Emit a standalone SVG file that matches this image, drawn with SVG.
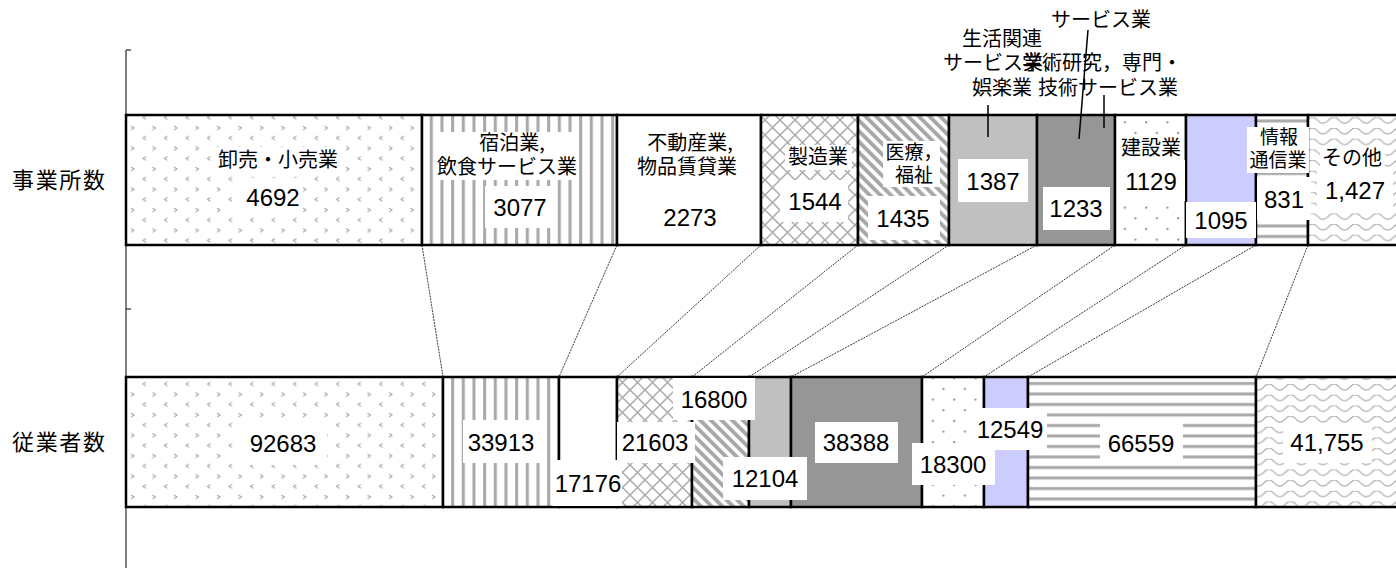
<svg xmlns="http://www.w3.org/2000/svg" width="1396" height="568" viewBox="0 0 1396 568">
<style>
.seg{stroke:#000;stroke-width:2.5}
.box{fill:#fff}
.jp{font-family:"Noto Sans CJK JP",sans-serif;font-size:20px;fill:#000;text-anchor:middle}
.sm{font-size:19px}
.num{font-family:"Liberation Sans","Noto Sans CJK JP",sans-serif;font-size:24px;fill:#000;text-anchor:middle}
.ax{font-family:"Noto Sans CJK JP",sans-serif;font-size:22px;fill:#000}
.conn{stroke:#222;stroke-width:0.9;stroke-dasharray:2 1;fill:none}
.lead{stroke:#000;stroke-width:1.5;fill:none}
</style>
<defs>
<pattern id="divot" patternUnits="userSpaceOnUse" width="21.5" height="20.5">
<rect width="21.5" height="20.5" fill="#fff"/>
<path d="M2,3 l3,2 l-3,2 M17,13 l-3,2 l3,2" stroke="#999" stroke-width="1" fill="none"/>
</pattern>
<pattern id="vstripe" patternUnits="userSpaceOnUse" width="10.67" height="10">
<rect width="10.67" height="10" fill="#fff"/>
<rect x="3" width="3" height="10" fill="#a8a8a8"/>
</pattern>
<pattern id="cross" patternUnits="userSpaceOnUse" width="15" height="15">
<rect width="15" height="15" fill="#fff"/>
<path d="M0,0 L15,15 M15,0 L0,15" stroke="#aaa" stroke-width="1.5"/>
</pattern>
<pattern id="wdiag" patternUnits="userSpaceOnUse" width="7.54" height="10" patternTransform="rotate(-45)">
<rect width="7.54" height="10" fill="#fff"/>
<rect width="3.9" height="10" fill="#a8a8a8"/>
</pattern>
<pattern id="dots" patternUnits="userSpaceOnUse" width="21.33" height="21.33">
<rect width="21.33" height="21.33" fill="#fff"/>
<circle cx="5" cy="5" r="1.1" fill="#888"/>
<circle cx="15.67" cy="15.67" r="1.1" fill="#888"/>
</pattern>
<pattern id="hstripe" patternUnits="userSpaceOnUse" width="10" height="10.5">
<rect width="10" height="10.5" fill="#fff"/>
<rect y="4" width="10" height="3" fill="#a8a8a8"/>
</pattern>
<pattern id="wave" patternUnits="userSpaceOnUse" width="21.6" height="10.67">
<rect width="21.6" height="10.67" fill="#fff"/>
<path d="M0,3 Q5.4,9 10.8,3 T21.6,3" stroke="#aaa" stroke-width="1.2" fill="none"/>
</pattern>
</defs>

<g id="axis">
<line x1="126" y1="50" x2="126" y2="568" stroke="#000" stroke-width="1"/>
<line x1="126" y1="50" x2="131" y2="50" stroke="#000" stroke-width="1"/>
<line x1="126" y1="309" x2="131" y2="309" stroke="#000" stroke-width="1"/>
<text class="ax" x="12" y="188" textLength="93">事業所数</text>
<text class="ax" x="12" y="450" textLength="93">従業者数</text>
</g>

<g id="connectors">
<line class="conn" x1="422" y1="245" x2="443" y2="377"/>
<line class="conn" x1="617" y1="245" x2="559" y2="377"/>
<line class="conn" x1="761" y1="245" x2="617" y2="377"/>
<line class="conn" x1="858" y1="245" x2="692" y2="377"/>
<line class="conn" x1="949" y1="245" x2="749" y2="377"/>
<line class="conn" x1="1037" y1="245" x2="791" y2="377"/>
<line class="conn" x1="1115" y1="245" x2="922" y2="377"/>
<line class="conn" x1="1186" y1="245" x2="984" y2="377"/>
<line class="conn" x1="1256" y1="245" x2="1028" y2="377"/>
<line class="conn" x1="1308" y1="245" x2="1256" y2="377"/>
</g>

<g id="upper-bar">
<rect class="seg" x="126" y="115" width="296" height="130" fill="url(#divot)"/>
<rect class="seg" x="422" y="115" width="195" height="130" fill="url(#vstripe)"/>
<rect class="seg" x="617" y="115" width="144" height="130" fill="#fff"/>
<rect class="seg" x="761" y="115" width="97" height="130" fill="url(#cross)"/>
<rect class="seg" x="858" y="115" width="91" height="130" fill="url(#wdiag)"/>
<rect class="seg" x="949" y="115" width="88" height="130" fill="#c0c0c0"/>
<rect class="seg" x="1037" y="115" width="78" height="130" fill="#969696"/>
<rect class="seg" x="1115" y="115" width="71" height="130" fill="url(#dots)"/>
<rect class="seg" x="1186" y="115" width="70" height="130" fill="#ccccff"/>
<rect class="seg" x="1256" y="115" width="52" height="130" fill="url(#hstripe)"/>
<rect class="seg" x="1308" y="115" width="94" height="130" fill="url(#wave)"/>
</g>

<g id="lower-bar">
<rect class="seg" x="126" y="377" width="317" height="130" fill="url(#divot)"/>
<rect class="seg" x="443" y="377" width="116" height="130" fill="url(#vstripe)"/>
<rect class="seg" x="559" y="377" width="58" height="130" fill="#fff"/>
<rect class="seg" x="617" y="377" width="75" height="130" fill="url(#cross)"/>
<rect class="seg" x="692" y="377" width="57" height="130" fill="url(#wdiag)"/>
<rect class="seg" x="749" y="377" width="42" height="130" fill="#c0c0c0"/>
<rect class="seg" x="791" y="377" width="131" height="130" fill="#969696"/>
<rect class="seg" x="922" y="377" width="62" height="130" fill="url(#dots)"/>
<rect class="seg" x="984" y="377" width="44" height="130" fill="#ccccff"/>
<rect class="seg" x="1028" y="377" width="228" height="130" fill="url(#hstripe)"/>
<rect class="seg" x="1256" y="377" width="146" height="130" fill="url(#wave)"/>
</g>

<g id="n-oroshi">
<rect class="box" x="216" y="147" width="124" height="26"/>
<text class="jp" x="278" y="167">卸売・小売業</text>
<rect class="box" x="238" y="178" width="64" height="39"/>
<text class="num" x="273" y="206">4692</text>
<rect class="box" x="238" y="420" width="89" height="45"/>
<text class="num" x="283" y="452">92683</text>
</g>

<g id="n-shukuhaku">
<rect class="box" x="436" y="132" width="143" height="48"/>
<text class="jp" x="512" y="150">宿泊業,</text>
<text class="jp" x="507" y="174">飲食サービス業</text>
<rect class="box" x="485" y="186" width="70" height="42"/>
<text class="num" x="520" y="216">3077</text>
<rect class="box" x="463" y="420" width="79" height="43"/>
<text class="num" x="501" y="451">33913</text>
</g>

<g id="n-fudosan">
<text class="jp" x="690" y="150">不動産業,</text>
<text class="jp" x="687" y="174">物品賃貸業</text>
<text class="num" x="690" y="226">2273</text>
<rect class="box" x="553" y="460" width="69" height="46"/>
<text class="num" x="588" y="492">17176</text>
</g>

<g id="n-seizo">
<rect class="box" x="785" y="145" width="67" height="25"/>
<text class="jp" x="818" y="164">製造業</text>
<rect class="box" x="780" y="180" width="68" height="42"/>
<text class="num" x="815" y="210">1544</text>
<rect class="box" x="617" y="422" width="78" height="41"/>
<text class="num" x="655" y="451">21603</text>
</g>

<g id="n-iryo">
<rect class="box" x="883" y="141" width="57" height="46"/>
<text class="jp sm" x="914" y="159">医療，</text>
<text class="jp sm" x="914" y="182">福祉</text>
<rect class="box" x="868" y="196" width="72" height="44"/>
<text class="num" x="903" y="227">1435</text>
<rect class="box" x="673" y="378" width="82" height="42"/>
<text class="num" x="714" y="408">16800</text>
</g>

<g id="n-seikatsu">
<text class="jp" x="1002" y="46">生活関連</text>
<text class="jp" x="1003" y="70">サービス業、</text>
<text class="jp" x="1002" y="95">娯楽業</text>
<line class="lead" x1="988" y1="105" x2="988" y2="137"/>
<rect class="box" x="958" y="159" width="70" height="43"/>
<text class="num" x="993" y="190">1387</text>
<rect class="box" x="723" y="457" width="84" height="43"/>
<text class="num" x="765" y="487">12104</text>
</g>

<g id="n-gakujutsu">
<text class="jp" x="1101" y="27">サービス業</text>
<text class="jp" x="1182" y="70" style="text-anchor:end">学術研究，専門・</text>
<text class="jp" x="1108" y="95">技術サービス業</text>
<line class="lead" x1="1088" y1="30" x2="1079" y2="139"/>
<line class="lead" x1="1104" y1="95" x2="1104" y2="128"/>
<rect class="box" x="1043" y="187" width="67" height="43"/>
<text class="num" x="1076" y="217">1233</text>
<rect class="box" x="815" y="422" width="83" height="41"/>
<text class="num" x="856" y="451">38388</text>
</g>

<g id="n-kensetsu">
<rect class="box" x="1118" y="136" width="66" height="25"/>
<text class="jp" x="1151" y="155">建設業</text>
<rect class="box" x="1117" y="160" width="68" height="41"/>
<text class="num" x="1151" y="190">1129</text>
<rect class="box" x="912" y="443" width="83" height="42"/>
<text class="num" x="953" y="473">18300</text>
</g>

<g id="n-blue">
<rect class="box" x="1186" y="202" width="70" height="36"/>
<text class="num" x="1221" y="229">1095</text>
<rect class="box" x="972" y="408" width="75" height="42"/>
<text class="num" x="1010" y="438">12549</text>
</g>

<g id="n-joho">
<rect class="box" x="1247" y="127" width="62" height="46"/>
<text class="jp sm" x="1279" y="144">情報</text>
<text class="jp sm" x="1278" y="167">通信業</text>
<rect class="box" x="1257" y="177" width="54" height="43"/>
<text class="num" x="1284" y="208">831</text>
<rect class="box" x="1100" y="422" width="83" height="43"/>
<text class="num" x="1141" y="452">66559</text>
</g>

<g id="n-sonota">
<rect class="box" x="1320" y="146" width="65" height="24"/>
<text class="jp" x="1352" y="165">その他</text>
<rect class="box" x="1317" y="168" width="76" height="44"/>
<text class="num" x="1355" y="199">1,427</text>
<rect class="box" x="1283" y="423" width="89" height="40"/>
<text class="num" x="1327" y="451">41,755</text>
</g>
</svg>
